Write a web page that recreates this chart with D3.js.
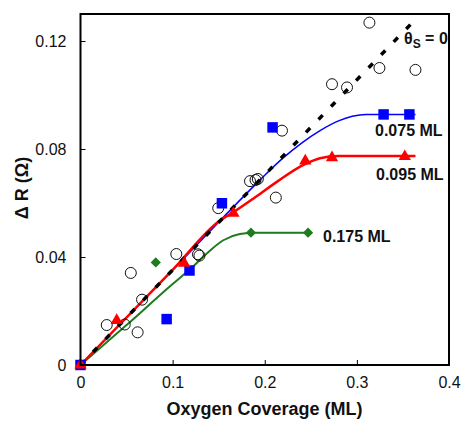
<!DOCTYPE html>
<html>
<head>
<meta charset="utf-8">
<script src="https://cdnjs.cloudflare.com/ajax/libs/d3/7.8.5/d3.min.js"></script>
<style>
  body { margin: 0; background: #fff; }
  svg { display: block; font-family: Arial, "Liberation Sans", sans-serif; }
</style>
</head>
<body>
<svg id="chart"></svg>
<script>
// oxygen coverage (ML) vs resistance change (ohm)

// open circles: theta_s = 0 measurements
var circX = [0.0285, 0.048, 0.062, 0.0546, 0.0668, 0.104, 0.1275, 0.1291, 0.1495,
             0.184, 0.19, 0.1925, 0.212, 0.2187, 0.273, 0.2893, 0.3136, 0.3245, 0.3636];
var circY = [0.0148, 0.0150, 0.0121, 0.0341, 0.0242, 0.0411, 0.0410, 0.0405, 0.0581,
             0.0681, 0.0685, 0.0689, 0.0620, 0.0868, 0.1040, 0.1028, 0.1268, 0.1100, 0.1093];

// 0.075 ML (blue squares)
var sqX = [0, 0.0935, 0.1183, 0.1535, 0.2085, 0.329, 0.357];
var sqY = [0, 0.0170, 0.0350, 0.0599, 0.0880, 0.0928, 0.0928];
var sqFitX = [0, 0.1, 0.19, 0.2, 0.22, 0.24, 0.26, 0.28, 0.295, 0.31, 0.3636];
var sqFitY = [0, 0.0352, 0.0669, 0.0703, 0.0767, 0.0822, 0.0868, 0.0904, 0.0921, 0.0928, 0.0928];

// 0.095 ML (red triangles)
var triX = [0, 0.0393, 0.1125, 0.166, 0.244, 0.273, 0.352];
var triY = [0, 0.0165, 0.0377, 0.0562, 0.0756, 0.0768, 0.0772];
var triFitX = [0, 0.1, 0.152, 0.166, 0.19, 0.215, 0.242, 0.26, 0.28, 0.3636];
var triFitY = [0, 0.0352, 0.0537, 0.0566, 0.0622, 0.0683, 0.0741, 0.0766, 0.0774, 0.0774];

// 0.175 ML (green diamonds)
var diaX = [0.0817, 0.185, 0.247];
var diaY = [0.0380, 0.0490, 0.0490];
var diaFitX = [0, 0.05, 0.1, 0.12, 0.137, 0.155, 0.173, 0.19, 0.247];
var diaFitY = [0, 0.0148, 0.0300, 0.0358, 0.0413, 0.0462, 0.0485, 0.0490, 0.0490];

// theta_s = 0 line
var zeroX = [0, 0.3636];
var zeroY = [0, 0.128];

var xTicks = [0, 0.1, 0.2, 0.3, 0.4];
var yTicks = [0, 0.04, 0.08, 0.12];

var W = 461, H = 424;
var plotL = 80.5, plotR = 449, plotT = 14, plotB = 365;

var blue = "#0000ff", red = "#ff0000", green = "#1e7b1e";

var svg = d3.select("#chart").attr("width", W).attr("height", H);
svg.append("rect").attr("width", W).attr("height", H).attr("fill", "#fff");

var x = d3.scaleLinear().domain([0, 0.4]).range([plotL, plotR]);
var y = d3.scaleLinear().domain([0, 0.13]).range([plotB, plotT]);

function pts(xs, ys) { return xs.map(function(v, i) { return [v, ys[i]]; }); }

// axes (ticks point inwards)
var xAxis = svg.append("g").attr("transform", "translate(0," + plotB + ")")
  .call(d3.axisBottom(x).tickValues(xTicks).tickSizeInner(-5).tickSizeOuter(0)
        .tickPadding(11.5).tickFormat(function(d) { return String(d); }));
var yAxis = svg.append("g").attr("transform", "translate(" + plotL + ",0)")
  .call(d3.axisLeft(y).tickValues(yTicks).tickSizeInner(-5).tickSizeOuter(0)
        .tickPadding(14).tickFormat(function(d) { return String(d); }));
[xAxis, yAxis].forEach(function(a) {
  a.select(".domain").remove();
  a.selectAll("line").attr("stroke", "#000").attr("stroke-width", 1);
  a.selectAll("text").attr("font-size", 16).attr("fill", "#111")
    .attr("font-family", "Arial, 'Liberation Sans', sans-serif");
});

var plot = svg.append("g");
var line = d3.line().x(function(d) { return x(d[0]); }).y(function(d) { return y(d[1]); })
  .curve(d3.curveMonotoneX);

plot.append("path").datum(pts(sqFitX, sqFitY)).attr("d", line)
  .attr("fill", "none").attr("stroke", blue).attr("stroke-width", 1.5);
plot.append("path").datum(pts(diaFitX, diaFitY)).attr("d", line)
  .attr("fill", "none").attr("stroke", green).attr("stroke-width", 2);
plot.append("path").datum(pts(triFitX, triFitY)).attr("d", line)
  .attr("fill", "none").attr("stroke", red).attr("stroke-width", 2.5);
plot.append("path").datum(pts(zeroX, zeroY))
  .attr("d", d3.line().x(function(d) { return x(d[0]); }).y(function(d) { return y(d[1]); }))
  .attr("fill", "none").attr("stroke", "#000").attr("stroke-width", 3.5)
  .attr("stroke-dasharray", "6,12");

plot.selectAll("circle.open").data(pts(circX, circY)).enter().append("circle")
  .attr("class", "open")
  .attr("cx", function(d) { return x(d[0]); }).attr("cy", function(d) { return y(d[1]); })
  .attr("r", 5.5).attr("fill", "none").attr("stroke", "#111").attr("stroke-width", 1);

function markers(data, type, size, fill, rot) {
  plot.append("g").selectAll("path").data(data).enter().append("path")
    .attr("d", d3.symbol().type(type).size(size))
    .attr("transform", function(d) {
      return "translate(" + x(d[0]) + "," + y(d[1]) + ")" + (rot ? " rotate(" + rot + ")" : "");
    })
    .attr("fill", fill);
}
markers(pts(sqX, sqY), d3.symbolSquare, 110, blue);
markers(pts(diaX, diaY), d3.symbolSquare, 52, green, 45);
markers(pts(triX, triY), d3.symbolTriangle, 66, red);

// frame
svg.append("rect").attr("x", plotL).attr("y", plotT)
  .attr("width", plotR - plotL).attr("height", plotB - plotT)
  .attr("fill", "none").attr("stroke", "#000").attr("stroke-width", 2);

// series labels
var lab = svg.append("g").attr("font-size", 16).attr("font-weight", "bold").attr("fill", "#111");
lab.append("text").attr("x", 375).attr("y", 136).text("0.075 ML");
lab.append("text").attr("x", 376).attr("y", 180).text("0.095 ML");
lab.append("text").attr("x", 323).attr("y", 242).text("0.175 ML");
var th = lab.append("text").attr("x", 404).attr("y", 44);
th.append("tspan").text("θ");
th.append("tspan").attr("dy", 4).attr("font-size", 12).text("S");
th.append("tspan").attr("dy", -4).text(" = 0");

// axis titles
svg.append("text").attr("x", 264.5).attr("y", 415).attr("text-anchor", "middle")
  .attr("font-size", 18).attr("font-weight", "bold").attr("fill", "#111")
  .text("Oxygen Coverage (ML)");
svg.append("text").attr("transform", "translate(28,188) rotate(-90)")
  .attr("text-anchor", "middle").attr("font-size", 18).attr("font-weight", "bold")
  .attr("fill", "#111").text("Δ R (Ω)");
</script>
</body>
</html>
